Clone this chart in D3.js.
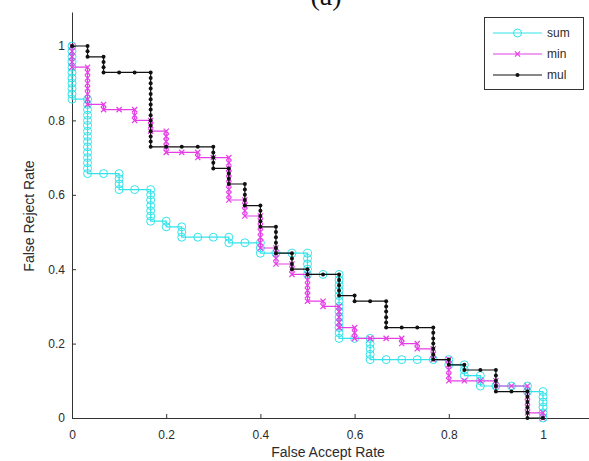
<!DOCTYPE html>
<html><head><meta charset="utf-8">
<script src="https://cdn.jsdelivr.net/npm/d3@7"></script>
<style>
html,body{margin:0;padding:0;background:#fff;}
svg{display:block;}
</style></head>
<body>
<svg id="chart" width="589" height="461"></svg>
<script>
// ---- DATA ----
const seriesNames = ["sum", "min", "mul"];
const xTicks = [0, 0.2, 0.4, 0.6, 0.8, 1];
const yTicks = [0, 0.2, 0.4, 0.6, 0.8, 1];
const xTickLabels = ["0", "0.2", "0.4", "0.6", "0.8", "1"];
const yTickLabels = ["0", "0.2", "0.4", "0.6", "0.8", "1"];

// [False Accept Rate, False Reject Rate]
const sumPoints = [
[0,1],[0,.986],[0,.971],[0,.957],[0,.943],[0,.929],[0,.914],[0,.9],[0,.886],[0,.871],[0,.857],
[.033,.857],[.033,.843],[.033,.829],[.033,.814],[.033,.8],[.033,.786],[.033,.771],[.033,.757],[.033,.743],[.033,.729],[.033,.714],[.033,.7],[.033,.686],[.033,.671],[.033,.657],
[.067,.657],[.1,.657],[.1,.643],[.1,.629],[.1,.614],
[.133,.614],[.167,.614],
[.167,.6],[.167,.586],[.167,.571],[.167,.557],[.167,.543],[.167,.529],
[.2,.529],[.2,.514],
[.233,.514],[.233,.5],[.233,.486],
[.267,.486],[.3,.486],[.333,.486],[.333,.471],
[.367,.471],[.4,.471],[.4,.457],[.4,.443],
[.433,.443],[.467,.443],[.5,.443],
[.5,.429],[.5,.414],[.5,.4],[.5,.386],
[.533,.386],[.567,.386],
[.567,.371],[.567,.357],[.567,.343],[.567,.329],[.567,.314],[.567,.3],[.567,.286],[.567,.271],[.567,.257],[.567,.243],[.567,.229],[.567,.214],
[.6,.214],[.633,.214],
[.633,.2],[.633,.186],[.633,.171],[.633,.157],
[.667,.157],[.7,.157],[.733,.157],[.767,.157],[.8,.157],
[.8,.143],[.833,.143],[.833,.129],[.833,.114],
[.867,.114],[.867,.1],[.867,.086],
[.9,.086],[.933,.086],[.967,.086],[.967,.071],
[1,.071],[1,.057],[1,.043],[1,.029],[1,.014],[1,0]
];

const minPoints = [
[0,1],[0,.986],[0,.971],[0,.957],[0,.943],
[.033,.943],[.033,.929],[.033,.914],[.033,.9],[.033,.886],[.033,.871],[.033,.857],[.033,.843],
[.067,.843],[.067,.829],
[.1,.829],[.133,.829],[.133,.814],[.133,.8],
[.167,.8],[.167,.786],[.167,.771],
[.2,.771],[.2,.757],[.2,.743],[.2,.729],[.2,.714],
[.233,.714],[.267,.714],[.267,.7],
[.3,.7],[.333,.7],
[.333,.686],[.333,.671],[.333,.657],[.333,.643],[.333,.629],[.333,.614],[.333,.6],[.333,.586],
[.367,.586],[.367,.571],[.367,.557],[.367,.543],
[.4,.543],[.4,.529],[.4,.514],[.4,.5],[.4,.486],[.4,.471],[.4,.457],
[.433,.457],[.433,.443],[.433,.429],[.433,.414],
[.467,.414],[.467,.4],[.467,.386],
[.5,.386],[.5,.371],[.5,.357],[.5,.343],[.5,.329],[.5,.314],
[.533,.314],[.533,.3],
[.567,.3],[.567,.286],[.567,.271],[.567,.257],[.567,.243],
[.6,.243],[.6,.229],[.6,.214],
[.633,.214],[.667,.214],[.7,.214],[.7,.2],
[.733,.2],[.733,.186],
[.767,.186],[.767,.171],[.767,.157],
[.8,.157],[.8,.143],[.8,.129],[.8,.114],[.8,.1],
[.833,.1],[.867,.1],[.9,.1],[.9,.086],
[.933,.086],[.967,.086],
[.967,.071],[.967,.057],[.967,.043],[.967,.029],[.967,.014],
[1,.014],[1,0]
];

const mulPoints = [
[0,1],
[.033,1],[.033,.986],[.033,.971],
[.067,.971],[.067,.957],[.067,.943],[.067,.929],
[.1,.929],[.133,.929],[.167,.929],
[.167,.914],[.167,.9],[.167,.886],[.167,.871],[.167,.857],[.167,.843],[.167,.829],[.167,.814],[.167,.8],[.167,.786],[.167,.771],[.167,.757],[.167,.743],[.167,.729],
[.2,.729],[.233,.729],[.267,.729],[.3,.729],
[.3,.714],[.3,.7],[.3,.686],[.3,.671],
[.333,.671],[.333,.657],[.333,.643],[.333,.629],
[.367,.629],[.367,.614],[.367,.6],[.367,.586],[.367,.571],
[.4,.571],[.4,.557],[.4,.543],[.4,.529],[.4,.514],
[.433,.514],[.433,.5],[.433,.486],[.433,.471],[.433,.457],[.433,.443],
[.467,.443],[.467,.429],[.467,.414],[.467,.4],
[.5,.4],[.5,.386],
[.533,.386],[.567,.386],
[.567,.371],[.567,.357],[.567,.343],[.567,.329],
[.6,.329],[.6,.314],
[.633,.314],[.667,.314],
[.667,.3],[.667,.286],[.667,.271],[.667,.257],[.667,.243],
[.7,.243],[.733,.243],[.767,.243],
[.767,.229],[.767,.214],[.767,.2],[.767,.186],[.767,.171],[.767,.157],
[.8,.157],[.8,.143],
[.833,.143],[.833,.129],
[.867,.129],[.9,.129],
[.9,.114],[.9,.1],[.9,.086],[.9,.071],
[.933,.071],[.967,.071],
[.967,.057],[.967,.043],[.967,.029],[.967,.014],[.967,0],
[1,0]
];

// ---- STYLE / LAYOUT ----
const colors = {sum: "#33e3ea", min: "#e63ee6", mul: "#111111"};
const svg = d3.select("#chart");
const x = d3.scaleLinear().domain([0, 1.1]).range([72, 590.1]);
const y = d3.scaleLinear().domain([0, 1.0914]).range([418, 12]);
const textColor = "#2b2b2b";
const font = "Arial, 'Liberation Sans', sans-serif";

// title (cut off at top, as in the original figure)
svg.append("text").attr("x", 326).attr("y", 5).attr("text-anchor", "middle")
  .attr("font-family", "'Liberation Serif', 'Times New Roman', serif").attr("font-size", 28)
  .attr("fill", "#111").text("(a)");

// axes
const xAxis = d3.axisBottom(x).tickValues(xTicks).tickFormat((d, i) => xTickLabels[i])
  .tickSizeInner(-4).tickSizeOuter(0).tickPadding(12);
const yAxis = d3.axisLeft(y).tickValues(yTicks).tickFormat((d, i) => yTickLabels[i])
  .tickSizeInner(-4).tickSizeOuter(0).tickPadding(7);

const gx = svg.append("g").attr("transform", "translate(0,418)").call(xAxis);
const gy = svg.append("g").attr("transform", "translate(72,0)").call(yAxis);
[gx, gy].forEach(g => {
  g.select(".domain").attr("stroke", "#333").attr("stroke-width", 1);
  g.selectAll(".tick line").attr("stroke", "#333");
  g.selectAll(".tick text").attr("font-family", font).attr("font-size", 12).attr("fill", textColor);
});

// axis labels
svg.append("text").attr("x", 328).attr("y", 457).attr("text-anchor", "middle")
  .attr("font-family", font).attr("font-size", 14).attr("fill", textColor).text("False Accept Rate");
svg.append("text").attr("transform", "translate(34,216) rotate(-90)").attr("text-anchor", "middle")
  .attr("font-family", font).attr("font-size", 14).attr("fill", textColor).text("False Reject Rate");

// series
const line = d3.line().x(d => x(d[0])).y(d => y(d[1]));
const plot = svg.append("g");

function drawMarker(g, kind, cx, cy, color) {
  if (kind === "sum") {
    g.append("circle").attr("cx", cx).attr("cy", cy).attr("r", 4)
      .attr("fill", "none").attr("stroke", color).attr("stroke-width", 1);
  } else if (kind === "min") {
    const s = 2.6;
    g.append("path").attr("d", `M${cx-s},${cy-s}L${cx+s},${cy+s}M${cx-s},${cy+s}L${cx+s},${cy-s}`)
      .attr("stroke", color).attr("stroke-width", 1.2);
  } else {
    g.append("circle").attr("cx", cx).attr("cy", cy).attr("r", 2).attr("fill", color);
  }
}

const allSeries = [["sum", sumPoints], ["min", minPoints], ["mul", mulPoints]];
allSeries.forEach(([name, pts]) => {
  const g = plot.append("g");
  g.append("path").datum(pts).attr("d", line).attr("fill", "none")
    .attr("stroke", colors[name]).attr("stroke-width", 1.2);
  pts.forEach(p => drawMarker(g, name, x(p[0]), y(p[1]), colors[name]));
});

// legend
const lg = svg.append("g");
lg.append("rect").attr("x", 484.5).attr("y", 17.5).attr("width", 99).attr("height", 72)
  .attr("fill", "#fff").attr("stroke", "#333").attr("stroke-width", 1);
seriesNames.forEach((name, i) => {
  const ly = 33 + i * 21;
  lg.append("line").attr("x1", 493).attr("x2", 542).attr("y1", ly).attr("y2", ly)
    .attr("stroke", colors[name]).attr("stroke-width", 1.2);
  drawMarker(lg, name, 517.5, ly, colors[name]);
  lg.append("text").attr("x", 547).attr("y", ly + 4).attr("font-family", font)
    .attr("font-size", 12).attr("fill", textColor).text(name);
});
</script>
</body></html>
